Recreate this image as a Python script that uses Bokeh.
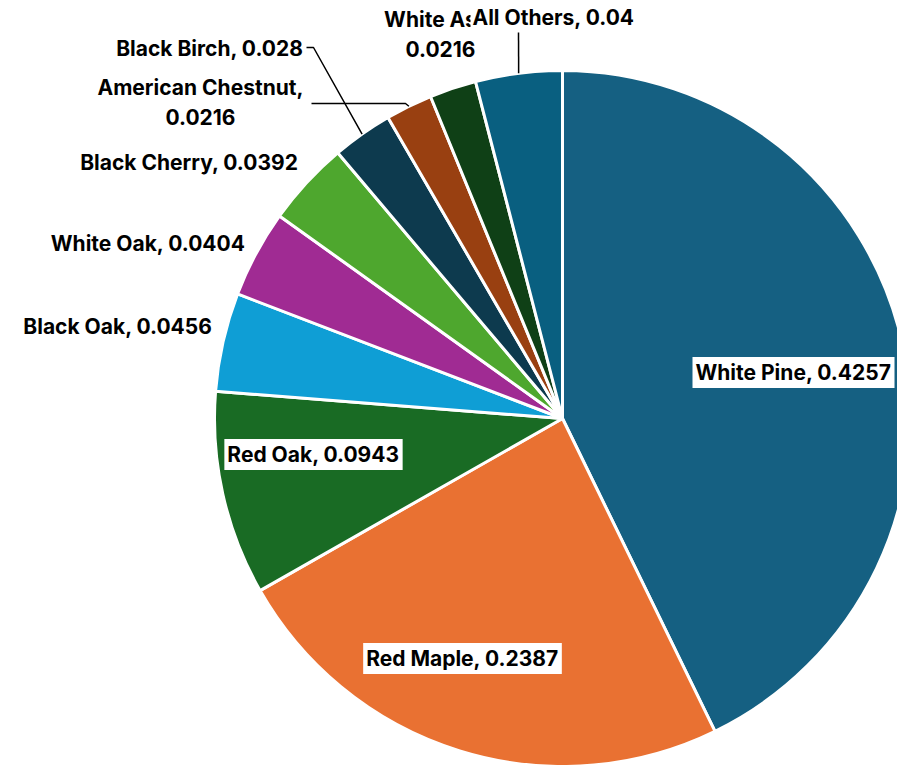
import math
from bokeh.plotting import figure
from bokeh.models import Range1d, ColumnDataSource
from bokeh.core.properties import value
from bokeh.embed import file_html
from bokeh.resources import INLINE

# ---- data ----
species = ["White Pine", "Red Maple", "Red Oak", "Black Oak", "White Oak",
           "Black Cherry", "Black Birch", "American Chestnut", "White Ash", "All Others"]
shares = [0.4257, 0.2387, 0.0943, 0.0456, 0.0404, 0.0392, 0.028, 0.0216, 0.0216, 0.04]
share_labels = ["0.4257", "0.2387", "0.0943", "0.0456", "0.0404", "0.0392", "0.028", "0.0216", "0.0216", "0.04"]
colors = ["#156082", "#E97132", "#196B24", "#0F9ED5", "#A02B93",
          "#4EA72E", "#0D3A4E", "#994011", "#0F4016", "#095F80"]

W, H = 897, 765
CX, CY, R = 562, H - 418, 348

total = sum(shares)
starts, ends, mids = [], [], []
c = 0.0
for s in shares:
    f = s / total
    starts.append(math.pi / 2 - 2 * math.pi * c)
    ends.append(math.pi / 2 - 2 * math.pi * (c + f))
    mids.append(math.pi / 2 - 2 * math.pi * (c + f / 2))
    c += f

p = figure(width=W, height=H, x_range=Range1d(0, W), y_range=Range1d(0, H),
           x_axis_type=None, y_axis_type=None, toolbar_location=None,
           output_backend="svg", min_border=0)
p.grid.visible = False
p.outline_line_color = None
p.background_fill_color = "white"

src = ColumnDataSource(dict(start=starts, end=ends, color=colors, name=species))
p.wedge(x=CX, y=CY, radius=R, start_angle="start", end_angle="end", direction="clock",
        fill_color="color", line_color="white", line_width=3, source=src)

def arc_pt(i):
    return CX + R * math.cos(mids[i]), CY + R * math.sin(mids[i])

# leader lines (label side positions in pixels from top-left)
leaders = {6: [(306, 47), (313, 47)], 7: [(311, 103), (405, 103)], 9: [(518, 32)]}
for i, pts in leaders.items():
    xs = [x for x, y in pts] + [arc_pt(i)[0]]
    ys = [H - y for x, y in pts] + [arc_pt(i)[1]]
    p.line(xs, ys, line_color="#000000", line_width=1.5)

FONT = value("Inter")
FS = "21px"

def lab(i):
    return f"{species[i]}, {share_labels[i]}"

# inside labels with white boxes
inside = {0: (793, 372), 1: (462, 658), 2: (313, 454)}
for i, (x, y) in inside.items():
    p.text(x=[x], y=[H - y], text=[lab(i)], text_font=FONT, text_font_style="bold",
           text_font_size=FS, text_align="center", text_baseline="middle",
           text_color="black", background_fill_color="white", padding=3)

# outside right-aligned labels
outside = {3: (212, 326), 4: (245, 243), 5: (298, 162), 6: (303, 48)}
for i, (x, y) in outside.items():
    p.text(x=[x], y=[H - y], text=[lab(i)], text_font=FONT, text_font_style="bold",
           text_font_size=FS, text_align="right", text_baseline="middle", text_color="black")

# two-line labels
two = {7: (200, 102), 8: (440, 34)}
for i, (x, y) in two.items():
    p.text(x=[x], y=[H - y], text=[f"{species[i]},\n{share_labels[i]}"], text_font=FONT,
           text_font_style="bold", text_font_size=FS, text_align="center",
           text_baseline="middle", text_color="black", text_line_height=1.2)

# All Others on top, with white background
p.text(x=[470], y=[H - 17], text=[lab(9)], text_font=FONT, text_font_style="bold",
       text_font_size=FS, text_align="left", text_baseline="middle", text_color="black",
       background_fill_color="white", padding=2)

open("out.html", "w").write(file_html(p, INLINE))
